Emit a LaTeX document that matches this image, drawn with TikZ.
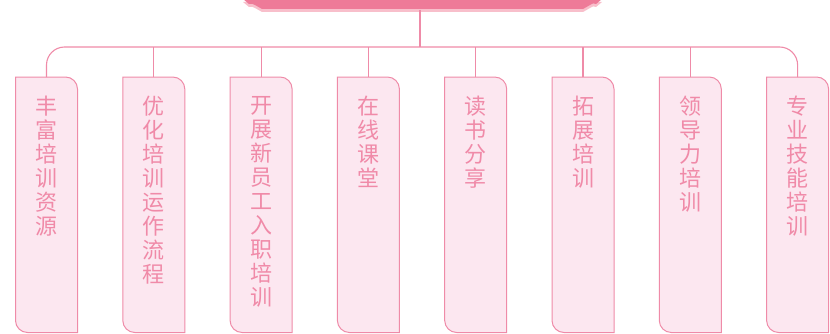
\documentclass[tikz,border=0pt]{standalone}
\usepackage{fontspec}
\newfontfamily\cjk{Noto Sans CJK SC}
\usetikzlibrary{positioning}
\definecolor{rosedark}{HTML}{EE7A98}
\definecolor{roseshade}{HTML}{F8BFCB}
\definecolor{roseline}{HTML}{EF8BA8}
\definecolor{rosefill}{HTML}{FCE7F0}
\definecolor{rosetext}{HTML}{F08AA8}
\tikzset{
  card/.style={minimum width=62pt, minimum height=255.5pt, inner sep=0pt, outer sep=0pt, anchor=north},
  cardline/.style={draw=roseline, fill=rosefill, line width=1pt},
  cardtext/.style={font=\cjk\fontsize{22}{24}\selectfont, text=rosetext, align=center, inner sep=0pt},
  link/.style={draw=roseline, line width=1.1pt},
}
\def\banner{(243,334) -- (249,329) .. controls (251,330) and (253,329) .. (255,328) -- (262,324) -- (583,324) -- (590,328) .. controls (592,330) and (594,330) .. (596,329) -- (602,334) -- cycle}

\begin{document}
\begin{tikzpicture}[x=1pt, y=1pt]
		\useasboundingbox (0,0) rectangle (830,333);
		\clip (0,0) rectangle (830,333);
		
		%%%%% TITLE %%%%%
		\fill[roseshade, yshift=-3pt] \banner;
		\fill[rosedark] \banner;
		\coordinate (title) at (420,323);
		\coordinate (bar) at (420,286);
		
		%%%%% CARDS %%%%%
		\foreach \i/\txt in {1/{丰\\富\\培\\训\\资\\源}, 2/{优\\化\\培\\训\\运\\作\\流\\程},
		  3/{开\\展\\新\\员\\工\\入\\职\\培\\训}, 4/{在\\线\\课\\堂}, 5/{读\\书\\分\\享},
		  6/{拓\\展\\培\\训}, 7/{领\\导\\力\\培\\训}, 8/{专\\业\\技\\能\\培\\训}} {
		  \node[card] (b\i) at ({46.5+107.3*(\i-1)},256) {};
		  \draw[cardline] (b\i.north west) -- ([xshift=-12pt]b\i.north east)
		    arc[start angle=90, end angle=0, radius=12pt] -- (b\i.south east)
		    -- ([xshift=12pt]b\i.south west) arc[start angle=270, end angle=180, radius=12pt] -- cycle;
		  \node[cardtext, below=19pt of b\i.north, anchor=north] (t\i) {\txt};
		}
		
		%%%%% LINKS %%%%%
		\draw[link] (title) -- (bar);
		\draw[link, rounded corners=18pt] (b1.north) |- (bar) -| (b8.north);
		\foreach \i in {2,...,7}
		  \draw[link] (b\i.north) -- (b\i.north |- bar);
		
\end{tikzpicture}
\end{document}
